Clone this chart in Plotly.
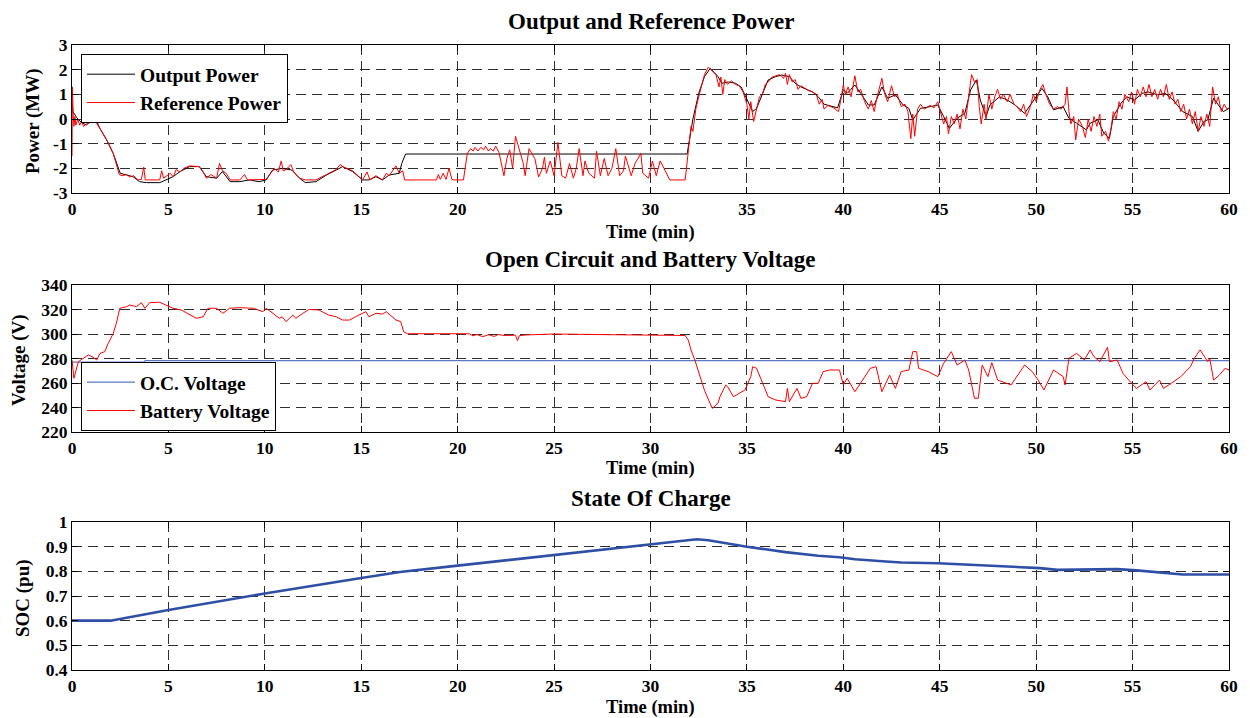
import plotly.graph_objects as go

# ---------------- data ----------------
t_out = [0, 0.05, 0.25, 0.5, 0.75, 1.0, 1.2, 1.45, 1.8, 2.14, 2.3, 2.5, 2.83, 3.17, 3.5, 3.86, 4.55, 4.9,
         5.24, 5.6, 6.1, 6.6, 6.97, 7.5, 7.8, 8.2, 8.7, 9.2, 9.7, 10.07, 10.4, 10.9, 11.4, 11.8, 12.1, 12.65,
         13.2, 13.7, 14.03, 14.55, 15.07, 15.4, 15.76, 16.1, 16.45, 16.97, 17.1, 17.3, 31.9, 32.2, 32.5,
         32.8, 33.1, 33.5, 33.7, 34.04, 34.4, 34.7, 35.07, 35.3, 35.5, 35.8, 36.1, 36.5, 36.8, 37.2, 37.5,
         37.8, 38.4, 38.7, 39.0, 39.7, 40.0, 40.2, 40.6, 40.9, 41.3, 41.6, 42.0, 42.3, 42.7, 43.1, 43.4,
         43.6, 43.9, 44.0, 44.5, 44.9, 45.2, 45.5, 45.9, 46.3, 46.6, 46.9, 47.1, 47.4, 47.6, 48.1, 48.5,
         48.9, 49.4, 49.9, 50.3, 50.6, 50.9, 51.4, 51.7, 52.1, 52.6, 52.8, 53.2, 53.5, 53.8, 54.0, 54.4,
         54.7, 55.1, 55.5, 55.8, 56.3, 56.7, 57.1, 57.6, 58.1, 58.4, 58.7, 58.9, 59.2, 59.5, 59.7, 60.0]
p_out = [0.6, 0.3, 0.05, -0.15, -0.24, -0.1, 0.03, -0.38, -0.85, -1.4, -1.8, -2.2, -2.27, -2.34, -2.54,
         -2.58, -2.58, -2.47, -2.34, -2.13, -1.93, -1.93, -2.34, -2.4, -2.13, -2.54, -2.54, -2.47, -2.54,
         -2.47, -2.07, -2.0, -2.07, -2.4, -2.58, -2.54, -2.27, -2.07, -1.93, -2.13, -2.47, -2.47, -2.34,
         -2.47, -2.27, -2.2, -1.8, -1.42, -1.42, 0.0, 1.04, 1.72, 2.05, 1.72, 1.45, 1.5, 1.45, 1.3, 0.65,
         0.3, 0.43, 1.04, 1.58, 1.72, 1.78, 1.72, 1.45, 1.3, 1.1, 0.9, 0.6, 0.45, 1.18, 1.04, 1.38, 1.04,
         0.57, 0.57, 1.3, 0.84, 0.98, 0.57, 0.43, -0.04, 0.3, 0.43, 0.5, 0.57, 0.1, -0.38, 0.03, 0.23,
         1.18, 1.58, 0.77, 0.1, 0.57, 0.9, 0.77, 0.57, 0.23, 0.77, 1.24, 0.9, 0.37, 0.5, 0.03, -0.17,
         -0.44, -0.17, -0.03, -0.57, -0.78, 0.1, 0.64, 0.9, 0.77, 1.04, 1.1, 0.98, 1.04, 0.77, 0.3, 0.1,
         -0.5, -0.1, -0.03, 0.84, 0.5, 0.3, 0.43]

t_ref = [0, 0.02, 0.06, 0.1, 0.15, 0.2, 0.3, 0.4, 0.5, 0.6, 0.75, 0.9, 1.05, 1.15, 1.3, 1.45, 1.8, 2.14,
         2.3, 2.45, 2.6, 2.83, 3.0, 3.2, 3.4, 3.6, 3.72, 3.8, 4.55, 4.65, 4.75, 4.9, 5.1, 5.25, 5.4, 5.6,
         5.8, 6.1, 6.6, 6.8, 6.97, 7.2, 7.5, 7.65, 7.8, 8.0, 8.2, 8.7, 8.95, 9.1, 9.7, 10.07, 10.3, 10.5,
         10.7, 10.85, 10.95, 11.1, 11.35, 11.5, 11.8, 12.1, 12.65, 13.2, 13.5, 13.7, 13.9, 14.1, 14.55,
         15.07, 15.3, 15.45, 15.76, 16.1, 16.3, 16.45, 16.8, 16.97, 17.15, 17.25, 18.9, 19.0, 19.1, 19.25,
         19.4, 19.55, 19.7, 19.8, 20.3, 20.5, 20.67, 20.8, 20.9, 21.05, 21.2, 21.35, 21.45, 21.6, 21.7,
         21.85, 21.97, 22.14, 22.4, 22.55, 22.7, 22.85, 23.0, 23.2, 23.4, 23.5, 23.7, 23.85, 24.0, 24.2,
         24.4, 24.5, 24.6, 24.8, 25.0, 25.2, 25.4, 25.6, 25.8, 26.0, 26.15, 26.3, 26.5, 26.6, 26.8, 27.1,
         27.2, 27.4, 27.6, 27.8, 28.0, 28.2, 28.4, 28.6, 28.7, 29.0, 29.2, 29.5, 29.6, 29.9, 30.1, 30.3,
         30.5, 30.7, 30.9, 31.0, 31.8, 31.96, 32.1, 32.2, 32.35, 32.5, 32.65, 32.8, 33.0, 33.2, 33.4,
         33.55, 33.65, 33.75, 33.85, 34.0, 34.2, 34.4, 34.6, 34.8, 35.0, 35.1, 35.2, 35.35, 35.5, 35.65,
         35.8, 35.95, 36.1, 36.3, 36.5, 36.7, 36.9, 37.0, 37.1, 37.2, 37.35, 37.5, 37.65, 37.8, 38.0,
         38.2, 38.4, 38.6, 38.75, 38.9, 39.0, 39.2, 39.5, 39.75, 39.9, 40.0, 40.1, 40.25, 40.4, 40.6,
         40.75, 40.9, 41.1, 41.3, 41.45, 41.6, 41.75, 42.0, 42.15, 42.3, 42.5, 42.65, 42.8, 43.0, 43.2,
         43.35, 43.5, 43.6, 43.7, 43.85, 44.0, 44.2, 44.5, 44.7, 44.9, 45.05, 45.2, 45.35, 45.45, 45.6,
         45.75, 45.9, 46.05, 46.2, 46.35, 46.5, 46.65, 46.8, 46.95, 47.05, 47.15, 47.3, 47.4, 47.55,
         47.7, 47.85, 48.0, 48.15, 48.3, 48.5, 48.65, 48.85, 49.0, 49.2, 49.35, 49.5, 49.7, 49.85, 50.0,
         50.2, 50.35, 50.5, 50.7, 50.9, 51.1, 51.3, 51.5, 51.6, 51.7, 51.8, 51.95, 52.05, 52.2, 52.4,
         52.55, 52.7, 52.85, 53.0, 53.15, 53.3, 53.4, 53.6, 53.75, 53.9, 54.0, 54.15, 54.3, 54.45, 54.6,
         54.8, 54.95, 55.1, 55.25, 55.4, 55.55, 55.7, 55.85, 56.0, 56.15, 56.3, 56.45, 56.6, 56.75, 56.9,
         57.05, 57.2, 57.35, 57.5, 57.65, 57.8, 57.95, 58.1, 58.25, 58.4, 58.55, 58.7, 58.85, 59.0,
         59.15, 59.3, 59.45, 59.6, 59.75, 59.9, 60.0]
p_ref = [-1.5, 1.3, 0.2, -0.3, 0.1, -0.25, 0.0, -0.25, -0.1, -0.3, -0.2, -0.15, 0.1, -0.05, -0.2, -0.4,
         -0.85, -1.4, -1.8, -2.25, -2.3, -2.25, -2.35, -2.3, -2.47, -2.45, -1.95, -2.47, -2.47, -2.1, -2.4,
         -2.3, -2.2, -2.35, -2.05, -2.15, -2.0, -1.9, -1.93, -2.15, -2.4, -2.25, -2.4, -1.8, -2.1, -2.2,
         -2.47, -2.47, -2.25, -2.47, -2.47, -2.45, -2.2, -2.0, -2.15, -1.7, -2.1, -2.05, -1.85, -2.15,
         -2.4, -2.47, -2.47, -2.25, -2.1, -2.05, -1.85, -1.95, -2.1, -2.47, -2.15, -2.47, -2.3, -2.47,
         -2.2, -2.3, -1.9, -2.2, -2.1, -2.47, -2.47, -2.25, -2.45, -2.2, -2.45, -2.0, -2.45, -2.47, -2.47,
         -1.4, -1.2, -1.3, -1.15, -1.3, -1.15, -1.25, -1.1, -1.3, -1.2, -1.3, -1.1, -1.35, -2.3, -1.6,
         -1.25, -2.0, -0.7, -1.3, -1.8, -2.3, -1.2, -1.4, -1.6, -2.35, -2.0, -1.55, -2.2, -1.7, -2.3,
         -0.95, -2.3, -2.4, -1.8, -2.4, -2.0, -1.2, -2.3, -1.7, -2.2, -2.4, -1.3, -2.3, -1.6, -2.3, -2.0,
         -1.2, -2.3, -2.1, -1.5, -2.3, -1.8, -1.4, -2.2, -2.4, -1.7, -2.3, -1.7, -2.0, -2.3, -2.47, -2.47,
         -1.2, -0.3, -0.5, 0.4, 0.9, 1.4, 1.8, 2.1, 1.95, 1.8, 1.3, 1.7, 1.0, 1.6, 1.4, 1.55, 1.4, 1.35,
         1.1, 0.6, 0.0, 0.7, -0.1, 0.4, 0.9, 1.0, 1.4, 1.5, 1.7, 1.75, 1.8, 1.65, 1.85, 1.4, 1.8, 1.5,
         1.6, 1.2, 1.35, 1.25, 1.15, 1.1, 1.0, 0.6, 0.8, 0.4, 0.55, 0.45, 0.3, 0.9, 1.4, 1.0, 1.3, 0.9,
         1.75, 1.1, 1.2, 0.7, 0.4, 0.75, 0.3, 0.9, 1.65, 1.0, 0.7, 1.35, 0.9, 1.0, 0.5, 0.6, 0.3, -0.8,
         0.2, -0.7, 0.4, 0.6, 0.4, 0.55, 0.45, 0.7, 0.2, -0.2, 0.1, -0.6, 0.1, -0.2, 0.2, -0.4, 0.4, 0.0,
         0.9, 1.8, 1.5, 1.6, 0.5, -0.2, 0.6, 0.0, 1.0, 0.4, 0.9, 1.2, 0.8, 1.0, 0.7, 1.0, 0.6, 0.5, 0.3,
         0.6, 0.1, 0.5, 1.0, 0.7, 1.2, 1.4, 1.0, 0.6, 0.4, 0.5, 0.4, 0.6, 1.3, 0.3, -0.2, 0.1, -0.85,
         0.0, -0.3, -0.75, 0.0, -0.5, 0.1, -0.3, 0.2, -0.7, -0.5, -0.9, -0.3, 0.3, 0.0, 0.7, 0.4, 1.0,
         0.7, 1.1, 0.6, 1.2, 0.9, 1.3, 0.9, 1.4, 0.9, 1.2, 0.8, 1.2, 0.9, 1.4, 0.8, 1.1, 0.6, 0.8, 0.3,
         0.6, 0.0, 0.4, -0.2, 0.3, -0.5, 0.1, -0.3, 0.2, -0.3, 1.3, 0.6, 0.9, 0.3, 0.6, 0.4, 0.45]

t_oc = [0, 3.7, 3.8, 29.2, 29.3, 34.5, 34.6, 60]
v_oc = [277.0, 277.0, 278.2, 278.2, 278.8, 278.8, 278.2, 278.2]

t_bat = [0, 0.1, 0.33, 0.6, 0.85, 1.1, 1.28, 1.45, 1.7, 1.88, 2.14, 2.3, 2.48, 2.83, 3.0, 3.34, 3.6,
         3.78, 4.03, 4.55, 4.9, 5.24, 5.67, 6.1, 6.45, 6.8, 7.05, 7.5, 7.83, 8.17, 8.7, 9.4, 9.9, 10.07,
         10.4, 10.76, 10.9, 11.1, 11.45, 11.6, 11.97, 12.3, 12.8, 13.3, 13.7, 14.03, 14.4, 14.7, 15.24,
         15.4, 15.76, 16.1, 16.3, 16.5, 16.8, 17.05, 17.2, 17.4, 20.6, 20.8, 21.0, 21.3, 21.6, 21.9,
         22.1, 22.4, 23.0, 23.1, 23.2, 23.5, 25.0, 27.0, 30.2, 31.8, 31.96, 32.1, 32.3, 32.6, 32.8, 33.2,
         33.5, 33.6, 33.9, 34.0, 34.1, 34.3, 34.6, 34.9, 35.2, 35.3, 35.5, 35.8, 36.1, 36.5, 37.0, 37.1,
         37.2, 37.6, 37.8, 38.1, 38.4, 38.7, 38.95, 39.3, 39.8, 40.0, 40.2, 40.6, 40.9, 41.4, 41.7,
         42.0, 42.4, 42.7, 43.0, 43.4, 43.6, 43.8, 43.9, 44.4, 44.9, 45.2, 45.6, 45.9, 46.3, 46.5, 46.8,
         47.0, 47.2, 47.5, 47.7, 48.0, 48.7, 49.4, 49.8, 50.1, 50.4, 50.9, 51.4, 51.5, 51.7, 52.1, 52.5,
         52.8, 53.0, 53.3, 53.7, 53.8, 54.2, 54.5, 54.8, 55.2, 55.7, 55.9, 56.4, 56.6, 57.0, 57.5, 58.0,
         58.2, 58.5, 58.9, 59.0, 59.2, 59.5, 59.8, 60.0]
v_bat = [278.8, 263.8, 277.4, 280.0, 282.9, 281.0, 278.8, 284.2, 285.6, 292.4, 300.5, 308.7, 321.0,
         322.3, 323.7, 322.3, 325.6, 321.0, 325.6, 325.9, 323.7, 321.0, 319.6, 315.5, 312.8, 314.1,
         321.0, 321.0, 316.9, 321.0, 321.5, 321.0, 318.2, 321.0, 316.9, 312.8, 314.1, 310.1, 315.5,
         312.8, 316.9, 320.1, 319.6, 315.5, 314.1, 311.4, 311.4, 314.1, 318.2, 314.1, 316.9, 316.3,
         318.2, 315.5, 311.4, 310.1, 301.9, 300.2, 300.2, 298.5, 299.6, 297.8, 299.4, 298.0, 299.6,
         298.8, 299.0, 294.6, 298.6, 299.2, 300.0, 299.6, 299.0, 298.8, 295.0, 287.0, 278.8, 265.0,
         254.0, 239.3, 243.4, 248.8, 258.4, 257.0, 254.3, 248.8, 251.6, 254.3, 265.2, 273.3, 272.0,
         259.7, 248.8, 246.1, 244.8, 255.6, 244.8, 255.6, 247.5, 248.8, 259.7, 259.7, 269.3, 270.6,
         270.6, 258.4, 263.8, 252.9, 259.7, 272.0, 273.3, 252.9, 266.5, 255.6, 269.3, 270.6, 285.6,
         285.6, 272.0, 269.3, 265.2, 276.0, 285.6, 274.6, 278.8, 270.6, 247.5, 247.5, 274.6, 265.2,
         276.6, 262.4, 258.4, 274.6, 269.3, 262.4, 254.3, 270.6, 265.2, 258.4, 280.1, 284.2, 278.8,
         287.0, 281.5, 277.4, 289.1, 277.4, 278.8, 267.9, 262.4, 255.6, 261.1, 254.3, 262.4, 255.6,
         259.7, 265.2, 273.3, 280.1, 287.0, 277.4, 280.1, 262.4, 266.5, 272.0, 270.6]

t_soc = [0, 2, 5, 10, 15, 17, 20, 25, 30, 32.4, 33, 35, 37, 38.7, 39.8, 40.6, 42.2, 43, 44.9, 47, 48.1,
         49, 50.2, 51.1, 53.7, 54.2, 55.2, 56.1, 56.8, 57.6, 60]
soc = [0.6, 0.6, 0.643, 0.71, 0.773, 0.797, 0.823, 0.867, 0.911, 0.93, 0.926, 0.9, 0.878, 0.863, 0.857,
       0.849, 0.84, 0.836, 0.833, 0.826, 0.822, 0.817, 0.813, 0.806, 0.806, 0.809, 0.804, 0.798, 0.793,
       0.787, 0.787]

x_ticks = [0, 5, 10, 15, 20, 25, 30, 35, 40, 45, 50, 55, 60]
p_ticks = [-3, -2, -1, 0, 1, 2, 3]
p_ticktext = ["-3", "-2", "-1", "0", "1", "2", "3"]
v_ticks = [220, 240, 260, 280, 300, 320, 340]
soc_ticks = [0.4, 0.5, 0.6, 0.7, 0.8, 0.9, 1.0]
soc_ticktext = ["0.4", "0.5", "0.6", "0.7", "0.8", "0.9", "1"]

# ---------------- figure ----------------
FONT = "Liberation Serif"
OFF = 8                      # page body margin offset (browser default)
W, H = 1250 - OFF, 718 - OFF
X0, X1 = 72, 1231            # plot area in reference pixels
Y0, Y1 = 45, 670
ML, MR = X0 - OFF, W - (X1 - OFF)
MT, MB = Y0 - OFF, H - (Y1 - OFF)


def py(ypx):
    return (Y1 - ypx) / (Y1 - Y0)


def px(xpx):
    return (xpx - X0) / (X1 - X0)


fig = go.Figure()
fig.add_trace(go.Scatter(x=t_out, y=p_out, mode="lines", name="Output Power",
                         line=dict(color="black", width=1), xaxis="x", yaxis="y", legend="legend"))
fig.add_trace(go.Scatter(x=t_ref, y=p_ref, mode="lines", name="Reference Power",
                         line=dict(color="#ff0000", width=1), xaxis="x", yaxis="y", legend="legend"))
fig.add_trace(go.Scatter(x=t_oc, y=v_oc, mode="lines", name="O.C. Voltage",
                         line=dict(color="#5a78c4", width=1.2), xaxis="x2", yaxis="y2", legend="legend2"))
fig.add_trace(go.Scatter(x=t_bat, y=v_bat, mode="lines", name="Battery Voltage",
                         line=dict(color="#ff0000", width=1), xaxis="x2", yaxis="y2", legend="legend2"))
fig.add_trace(go.Scatter(x=t_soc, y=soc, mode="lines", name="SOC", showlegend=False,
                         line=dict(color="#2f4fa6", width=2.6), xaxis="x3", yaxis="y3"))

tickfont = dict(family=FONT, size=17.5, color="black", weight="bold")
common = dict(showline=True, linecolor="black", linewidth=1, mirror="ticks", ticks="inside", ticklen=6,
              tickcolor="black", showgrid=True, gridcolor="#303030", gridwidth=1, griddash="10px,6px",
              zeroline=False, tickfont=tickfont)

d1 = [py(193), py(45)]
d2 = [py(432), py(285)]
d3 = [py(670), py(522)]

legfont = dict(family=FONT, size=19.5, color="black", weight="bold")
fig.update_layout(
    width=W, height=H, margin=dict(l=ML, r=MR, t=MT, b=MB),
    paper_bgcolor="white", plot_bgcolor="white",
    showlegend=True,
    xaxis=dict(common, range=[0, 60], tickvals=x_ticks, domain=[0, 1], anchor="y"),
    yaxis=dict(common, range=[-3, 3], tickvals=p_ticks, ticktext=p_ticktext, domain=d1, anchor="x"),
    xaxis2=dict(common, range=[0, 60], tickvals=x_ticks, domain=[0, 1], anchor="y2"),
    yaxis2=dict(common, range=[220, 340], tickvals=v_ticks, domain=d2, anchor="x2"),
    xaxis3=dict(common, range=[0, 60], tickvals=x_ticks, domain=[0, 1], anchor="y3"),
    yaxis3=dict(common, range=[0.4, 1.0], tickvals=soc_ticks, ticktext=soc_ticktext, domain=d3, anchor="x3"),
    legend=dict(x=px(81), y=py(54), xanchor="left", yanchor="top", bgcolor="white", bordercolor="black",
                borderwidth=1, font=legfont, tracegroupgap=0, itemwidth=48),
    legend2=dict(x=px(81), y=py(362), xanchor="left", yanchor="top", bgcolor="white", bordercolor="black",
                 borderwidth=1, font=legfont, tracegroupgap=0, itemwidth=48),
)

titles = [("Output and Reference Power", 21), ("Open Circuit and Battery Voltage", 260),
          ("State Of Charge", 498)]
for txt, ypx in titles:
    fig.add_annotation(text=txt, xref="paper", yref="paper", x=0.5, y=py(ypx), showarrow=False,
                       xanchor="center", yanchor="middle",
                       font=dict(family=FONT, size=23, color="black", weight="bold"))
for ypx in [232, 468, 707]:
    fig.add_annotation(text="Time (min)", xref="paper", yref="paper", x=0.5, y=py(ypx), showarrow=False,
                       xanchor="center", yanchor="middle",
                       font=dict(family=FONT, size=18.5, color="black", weight="bold"))
ylabels = [("Power (MW)", 33, 121), ("Voltage (V)", 19, 360), ("SOC (pu)", 23, 598)]
for txt, xpx, ypx in ylabels:
    fig.add_annotation(text=txt, xref="paper", yref="paper", x=px(xpx), y=py(ypx), showarrow=False,
                       xanchor="center", yanchor="middle", textangle=-90,
                       font=dict(family=FONT, size=19, color="black", weight="bold"))

fig.write_html("out.html")
